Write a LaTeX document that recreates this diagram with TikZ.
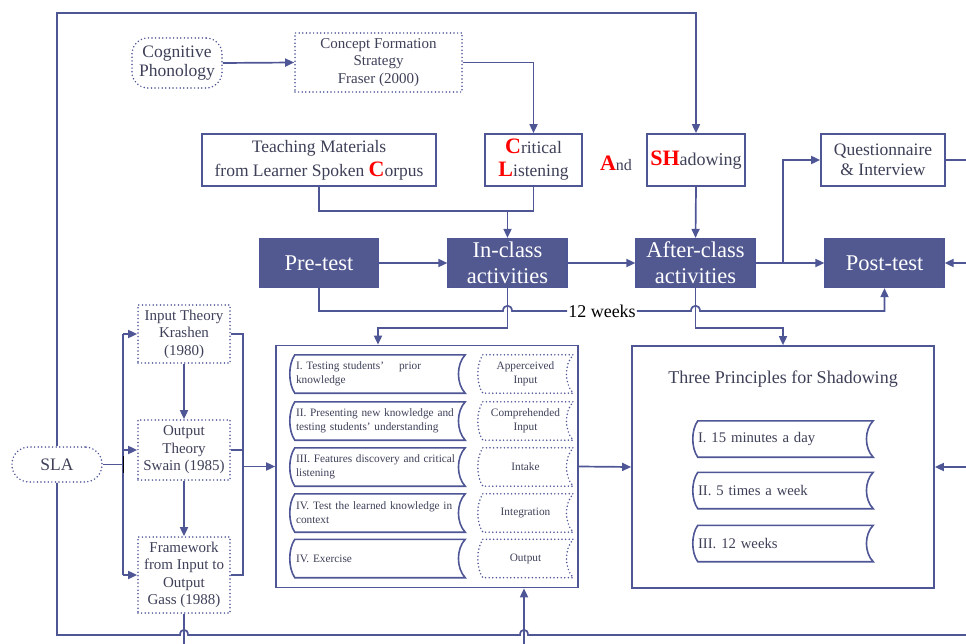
\documentclass[tikz,border=0pt]{standalone}
\usepackage{fontspec}
\setmainfont{Liberation Serif}
\usetikzlibrary{arrows.meta,calc}
\definecolor{lb}{RGB}{78,86,150}
\definecolor{fb}{RGB}{82,89,145}
\definecolor{tg}{RGB}{62,64,88}
\definecolor{rd}{RGB}{255,0,0}
\newcommand\tapeit[2][]{\draw[lb, line width=1.6pt,#1] ([xshift=5pt]#2.north west) -- (#2.north east) .. controls ($(#2.north east)!0.25!(#2.south east)+(-9,0)$) and ($(#2.north east)!0.75!(#2.south east)+(-9,0)$) .. (#2.south east) -- ([xshift=5pt]#2.south west) .. controls ($(#2.south west)!0.25!(#2.north west)+(-1.7,0)$) and ($(#2.south west)!0.75!(#2.north west)+(-1.7,0)$) .. ([xshift=5pt]#2.north west) -- cycle;}
\newcommand\bigred[1]{{\color{rd}\bfseries\fontsize{22}{22}\selectfont #1}}
\hyphenpenalty=10000
\begin{document}
\begin{tikzpicture}[x=1pt,y=-1pt,
  ln/.style={draw=lb, line width=1.7pt},
  arr/.style={ln, -{Triangle[length=9pt,width=8pt]}},
  dots/.style={dash pattern=on 0pt off 3.6pt, line cap=round, line width=1.7pt},
  plain/.style={draw=lb, line width=1.7pt, fill=white, text=tg, align=center, inner sep=0pt},
  dark/.style={draw=lb, line width=1.2pt, fill=fb, text=white, align=center, inner sep=0pt, minimum width=119, minimum height=49, font=\fontsize{22.5}{26}\selectfont},
  dotbox/.style={draw=lb, dots, text=tg, align=center, inner sep=0pt},
  rowbox/.style={inner sep=0pt, minimum width=175, minimum height=38, text width=163, align=left, text=tg, font=\fontsize{11.3}{14}\selectfont},
  inbox/.style={inner sep=0pt, minimum width=95, minimum height=38, align=center, text=tg, font=\fontsize{11.3}{13.5}\selectfont},
  prbox/.style={inner sep=0pt, minimum width=180, minimum height=36, text width=170, align=left, text=tg, font=\fontsize{14.7}{16}\selectfont},
  theory/.style={dotbox, minimum width=92, font=\fontsize{15}{17.5}\selectfont}
]
\useasboundingbox (0,0) rectangle (966,644);

% nodes
\node[dotbox, rounded corners=16pt, minimum width=90, minimum height=50, font=\fontsize{17.5}{19}\selectfont] (cog) at (177,63) {Cognitive\\Phonology};
\node[dotbox, minimum width=167, minimum height=59, font=\fontsize{15}{17.5}\selectfont] (cfs) at (378.5,62.5) {Concept Formation\\Strategy\\Fraser (2000)};
\node[plain, minimum width=234, minimum height=52, font=\fontsize{17.5}{24}\selectfont] (tm) at (319,160) {Teaching Materials\\from Learner Spoken \bigred{C}orpus};
\node[plain, minimum width=97, minimum height=52, font=\fontsize{17.5}{23}\selectfont] (cl) at (533.5,160) {\bigred{C}ritical\\\bigred{L}istening};
\node[text=tg, inner sep=0pt, font=\fontsize{16}{19}\selectfont] (and) at (616,163) {\bigred{A}nd};
\node[plain, minimum width=98, minimum height=52, font=\fontsize{18}{22}\selectfont] (sh) at (696,160) {\bigred{SH}adowing};
\node[plain, minimum width=124, minimum height=52, font=\fontsize{17.5}{20}\selectfont] (qi) at (883,160) {Questionnaire\\\& Interview};

\node[dark] (pre) at (319,263) {Pre-test};
\node[dark] (inc) at (507.5,263) {In-class\\activities};
\node[dark] (aft) at (695.5,263) {After-class\\activities};
\node[dark] (post) at (884.5,263) {Post-test};
\node[inner sep=1pt, font=\fontsize{18}{19}\selectfont] (weeks) at (602,311) {12 weeks};

\node[plain, minimum width=302, minimum height=242] (act) at (427,466.5) {};
\node[plain, minimum width=302, minimum height=242] (tp) at (783,467) {};
\node[text=tg, font=\fontsize{18}{19}\selectfont] (title) at (783,379) {Three Principles for Shadowing};

\node[rowbox] (r1) at (377.5,374) {I. Testing students'\ \ \ \ prior\\knowledge};
\node[rowbox] (r2) at (377.5,421) {II. Presenting new knowledge and testing students' understanding};
\node[rowbox] (r3) at (377.5,467) {III. Features discovery and critical listening};
\node[rowbox] (r4) at (377.5,513) {IV. Test the learned knowledge in context};
\node[rowbox] (r5) at (377.5,558.5) {IV. Exercise};
\node[inbox] (q1) at (525.5,374) {Apperceived\\Input};
\node[inbox] (q2) at (525.5,421) {Comprehended\\Input};
\node[inbox] (q3) at (525.5,467) {Intake};
\node[inbox] (q4) at (525.5,513) {Integration};
\node[inbox] (q5) at (525.5,558.5) {Output};
\foreach \n in {r1,r2,r3,r4,r5} {\tapeit{\n}}
\foreach \n in {q1,q2,q3,q4,q5} {\tapeit[dots]{\n}}

\node[prbox] (p1) at (783,439) {I. 15 minutes a day};
\node[prbox] (p2) at (783,490.5) {II. 5 times a week};
\node[prbox] (p3) at (783,543.5) {III. 12 weeks};
\foreach \n in {p1,p2,p3} {\tapeit{\n}}

\node[dotbox, rounded corners=17pt, minimum width=90, minimum height=35, font=\fontsize{17.5}{19}\selectfont] (sla) at (57,464.5) {SLA};
\node[theory, minimum height=58] (inp) at (184,334) {Input Theory\\Krashen\\(1980)};
\node[theory, minimum height=60] (outp) at (184,450) {Output\\Theory\\Swain (1985)};
\node[theory, minimum height=76] (fw) at (184,575) {Framework\\from Input to\\Output\\Gass (1988)};

% coordinates
\coordinate (tl) at (57,13);
\coordinate (j1) at (507.5,211);
\coordinate (b1) at (783,263);
\coordinate (e1) at (966,160);
\coordinate (e2) at (966,263);
\coordinate (e3) at (966,467);
\coordinate (e4) at (524,644);
\coordinate (e5) at (184,644);
\coordinate (bl) at (57,635);
\coordinate (br) at (966,635);
\coordinate (lx) at (123,464.5);
\coordinate (rx) at (243,466.5);
\coordinate (pw) at (884.5,311);

% connectors top
\draw[arr] (cog.east) -- (cfs.west);
\draw[arr] (cfs.east) -| (cl.north);
\draw[arr] (sla.north) -- (tl) -| (sh.north);
\draw[arr] (sh.south) -- (aft.north);
\draw[ln] (tm.south) |- (j1) -| (cl.south);
\draw[arr] (j1) -- (inc.north);
\draw[arr] (pre.east) -- (inc.west);
\draw[arr] (inc.east) -- (aft.west);
\draw[arr] (aft.east) -- (post.west);
\draw[arr] (b1) |- (qi.west);
\draw[ln] (qi.east) -- (e1);
\draw[arr] (e2) -- (post.east);

% 12 weeks
\draw[ln] (pre.south) -- (319,311) -- (503,311) .. controls (503,304) and (512,304) .. (512,311) -- (weeks.west);
\draw[arr] (weeks.east) -- (691,311) .. controls (691,304) and (700,304) .. (700,311) -- (pw) -- (post.south);

% down to lower boxes
\draw[arr] (inc.south) -- (507.5,328) -| ([xshift=-49pt]act.north);
\draw[arr] (aft.south) -- (695.5,328) -| (tp.north);
\draw[arr] (act.east) -- (tp.west);
\draw[arr] (e3) -- (tp.east);
\draw[arr] (e4) -- (e4 |- act.south);

% bottom frame
\draw[ln] (sla.south) -- (bl) -- (180,635) .. controls (180,628) and (188,628) .. (188,635) -- (520,635) .. controls (520,628) and (528,628) .. (528,635) -- (br);
\draw[ln] (fw.south) -- (e5);

% left theories
\draw[ln] (sla.east) -- (lx);
\draw[ln] (123,334) -- (123,575);
\draw[black, line width=1.8pt] (123.5,456) -- (123.5,473);
\draw[arr] (123,334) -- (inp.west);
\draw[arr] (123,450) -- (outp.west);
\draw[arr] (123,575) -- (fw.west);
\draw[arr] (inp.south) -- (outp.north);
\draw[arr] (outp.south) -- (fw.north);
\draw[ln] (inp.east) -- (243,334) -- (243,575) -- (fw.east);
\draw[ln] (outp.east) -- (243,450);
\draw[arr] (rx) -- (act.west);
\end{tikzpicture}
\end{document}
